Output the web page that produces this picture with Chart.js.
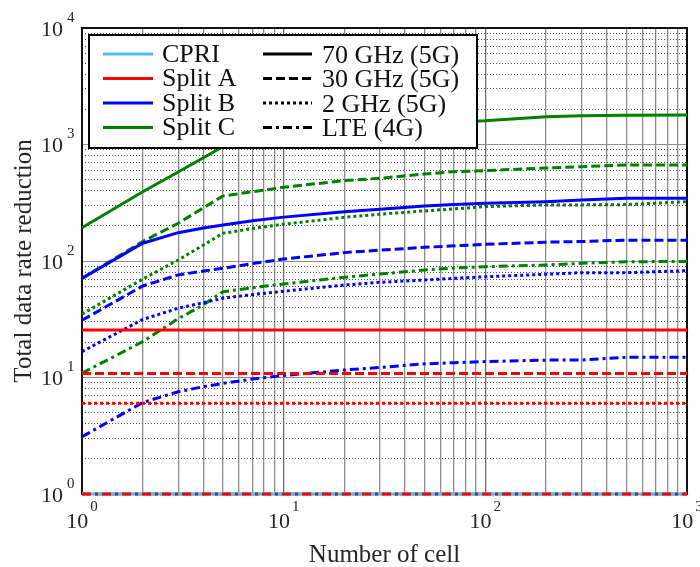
<!DOCTYPE html>
<html>
<head>
<meta charset="utf-8">
<script src="https://cdn.jsdelivr.net/npm/chart.js@4.4.1/dist/chart.umd.min.js"></script>
<style>
  html, body { margin: 0; padding: 0; background: #fff; }
  #wrap { width: 700px; height: 567px; }
</style>
</head>
<body>
<div id="wrap"><canvas id="c" width="700" height="567"></canvas></div>
<script>
// Number of cells (x positions shared by the curved series)
const cells = [1, 2, 3, 4, 5, 7, 10, 20, 30, 50, 70, 100, 200, 300, 500, 1000];

// Split B (blue) data rate reduction per band
const splitB70  = [71, 142, 175, 192, 204, 222, 238, 265, 278, 297, 305, 313, 323, 334, 345, 345];
const splitB30  = [31, 61, 76, 82, 86.5, 95, 104, 118, 124, 131, 135, 139, 145, 147, 151, 151];
const splitB2   = [16.7, 31.5, 39.3, 43.9, 47.9, 51.5, 55, 62.2, 65.6, 68.7, 71, 73.3, 76.9, 79.4, 79.4, 82.6];
const splitBLte = [3.1, 6.1, 7.55, 8.34, 8.9, 9.7, 10.4, 11.6, 12.2, 13.1, 13.4, 13.7, 14.1, 14.1, 14.9, 14.9];

// Split C (green) data rate reduction per band
const splitC70  = [193, 393, 580, 770, 960, 1060, 1146, 1310, 1390, 1500, 1560, 1600, 1733, 1767, 1780, 1791];
const splitC30  = [71, 147, 211, 286, 361, 393, 429, 490, 513, 558, 585, 596, 629, 645, 667, 667];
const splitC2   = [35, 70, 102, 137, 173, 190, 207, 237, 252, 269, 280, 293, 303, 303, 305, 323];
const splitCLte = [10.9, 20.3, 32, 42, 54.5, 59, 63.5, 72.5, 77.3, 83.7, 87, 89.4, 92.4, 95.5, 98.6, 99];

// Flat levels (independent of cell count), order: 70 GHz, 30 GHz, 2 GHz, LTE
const cpriLevel   = [1, 1, 1, 1];
const splitALevel = [25.6, 10.8, 6.0, 1];

// Legend / series naming
const splitNames  = ['CPRI', 'Split A', 'Split B', 'Split C'];
const splitColors = ['#4dbeee', '#ff0000', '#0000ff', '#008000'];
const bandNames   = ['70 GHz (5G)', '30 GHz (5G)', '2 GHz (5G)', 'LTE (4G)'];
const bandDashes  = [[], [9, 4], [3, 3], [9, 4, 3, 4]];

// Tick positions
const xTicks = [1,2,3,4,5,6,7,8,9,10,20,30,40,50,60,70,80,90,100,200,300,400,500,600,700,800,900,1000];
const yTicks = [];
for (let e = 0; e < 4; e++) for (let m = 1; m < 10; m++) yTicks.push(m * Math.pow(10, e));
yTicks.push(10000);
const xDecades = [0, 1, 2, 3];
const yDecades = [0, 1, 2, 3, 4];

const isDecade = v => Math.abs(Math.log10(v) - Math.round(Math.log10(v))) < 1e-9;
const FONT = '"Liberation Serif", "Times New Roman", serif';

function curve(values) {
  return cells.map((c, i) => ({ x: c, y: values[i] }));
}
function flat(v) {
  return [{ x: cells[0], y: v }, { x: cells[cells.length - 1], y: v }];
}

const curveSets = { 2: [splitB70, splitB30, splitB2, splitBLte], 3: [splitC70, splitC30, splitC2, splitCLte] };
const datasets = [];
[0, 1, 2, 3].forEach(s => {
  [0, 1, 2, 3].forEach(b => {
    let data;
    if (s === 0) data = flat(cpriLevel[b]);
    else if (s === 1) data = flat(splitALevel[b]);
    else data = curve(curveSets[s][b]);
    datasets.push({
      label: splitNames[s] + ' ' + bandNames[b],
      data,
      borderColor: splitColors[s],
      borderWidth: 3,
      borderDash: bandDashes[b],
      borderCapStyle: 'butt',
      pointRadius: 0,
      tension: 0,
      fill: false,
      clip: false,
      order: s === 0 ? 4 : s
    });
  });
});

// Frame, superscript tick labels, axis titles and the two-column legend
const decor = {
  id: 'decor',
  beforeDatasetsDraw(chart) {
    const { ctx, chartArea: a } = chart;
    ctx.save();
    ctx.strokeStyle = '#111';
    ctx.lineWidth = 2;
    ctx.strokeRect(a.left, a.top, a.right - a.left, a.bottom - a.top);
    ctx.restore();
  },
  afterDraw(chart) {
    const { ctx, scales: { x, y } } = chart;
    ctx.save();
    ctx.fillStyle = '#262626';
    // y tick labels
    yDecades.forEach(e => {
      const py = y.getPixelForValue(Math.pow(10, e));
      ctx.font = '22px ' + FONT;
      ctx.textAlign = 'right';
      ctx.textBaseline = 'middle';
      ctx.fillText('10', 63, py + 2);
      ctx.font = '15px ' + FONT;
      ctx.textAlign = 'left';
      ctx.fillText(String(e), 67, py - 10);
    });
    // x tick labels
    xDecades.forEach(e => {
      const px = x.getPixelForValue(Math.pow(10, e));
      ctx.font = '22px ' + FONT;
      const w10 = ctx.measureText('10').width;
      ctx.font = '15px ' + FONT;
      const wE = ctx.measureText(String(e)).width;
      const start = px - (w10 + 2 + wE) / 2;
      ctx.textAlign = 'left';
      ctx.textBaseline = 'middle';
      ctx.font = '22px ' + FONT;
      ctx.fillText('10', start, 522);
      ctx.font = '15px ' + FONT;
      ctx.fillText(String(e), start + w10 + 2, 507);
    });
    // axis titles
    ctx.font = '25px ' + FONT;
    ctx.textAlign = 'center';
    ctx.textBaseline = 'alphabetic';
    ctx.fillText('Number of cell', (chart.chartArea.left + chart.chartArea.right) / 2, 562);
    ctx.save();
    ctx.translate(31, (chart.chartArea.top + chart.chartArea.bottom) / 2);
    ctx.rotate(-Math.PI / 2);
    ctx.fillText('Total data rate reduction', 0, 0);
    ctx.restore();

    // legend
    const bx = 89, by = 35, bw = 388, bh = 113;
    ctx.fillStyle = '#fff';
    ctx.fillRect(bx, by, bw, bh);
    ctx.strokeStyle = '#000';
    ctx.lineWidth = 2;
    ctx.strokeRect(bx, by, bw, bh);
    const rows = [54, 78.5, 103, 127.5];
    ctx.font = '26px ' + FONT;
    ctx.textAlign = 'left';
    ctx.textBaseline = 'middle';
    rows.forEach((ry, i) => {
      // colour column
      ctx.setLineDash([]);
      ctx.strokeStyle = splitColors[i];
      ctx.lineWidth = 3;
      ctx.beginPath(); ctx.moveTo(103, ry); ctx.lineTo(153, ry); ctx.stroke();
      ctx.fillStyle = '#111';
      ctx.fillText(splitNames[i], 162, ry + 1);
      // line style column
      ctx.setLineDash(bandDashes[i]);
      ctx.strokeStyle = '#000';
      ctx.beginPath(); ctx.moveTo(263, ry); ctx.lineTo(312, ry); ctx.stroke();
      ctx.fillText(bandNames[i], 322, ry + 2);
    });
    ctx.restore();
  }
};

new Chart(document.getElementById('c'), {
  type: 'line',
  data: { datasets },
  options: {
    responsive: false,
    animation: false,
    devicePixelRatio: 1,
    layout: { padding: { left: 82, top: 28, right: 13, bottom: 73 } },
    plugins: { legend: { display: false }, tooltip: { enabled: false } },
    scales: {
      x: {
        type: 'logarithmic', min: 1, max: 1000,
        afterBuildTicks: s => { s.ticks = xTicks.map(v => ({ value: v, major: isDecade(v) })); },
        ticks: { display: false },
        grid: { drawTicks: false, color: ctx => isDecade(ctx.tick.value) ? '#6e6e6e' : '#8c8c8c', lineWidth: 1.3 },
        border: { display: false }
      },
      y: {
        type: 'logarithmic', min: 1, max: 10000,
        afterBuildTicks: s => { s.ticks = yTicks.map(v => ({ value: v, major: isDecade(v) })); },
        ticks: { display: false },
        grid: { drawTicks: false, color: ctx => isDecade(ctx.tick.value) ? '#909090' : '#505050', lineWidth: 1 },
        border: { display: false, dash: ctx => isDecade(ctx.tick.value) ? [] : [1, 2] }
      }
    }
  },
  plugins: [decor]
});
</script>
</body>
</html>
